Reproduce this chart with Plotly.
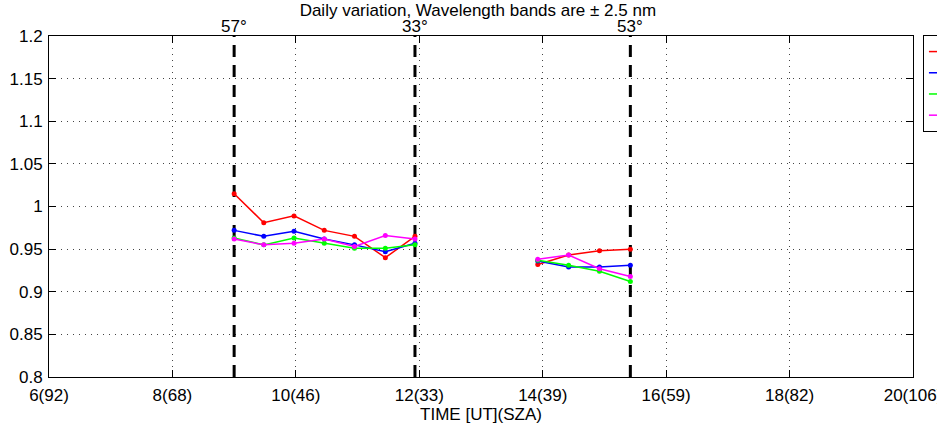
import plotly.graph_objects as go

# Times in UT hours (None separates morning and afternoon sessions)
times = [9.0, 9.48, 9.97, 10.46, 10.95, 11.45, 11.93, None, 13.92, 14.42, 14.92, 15.42]

red = [1.015, 0.981, 0.989, 0.972, 0.965, 0.940, 0.965, None, 0.932, 0.943, 0.948, 0.950]
blue = [0.972, 0.965, 0.971, 0.962, 0.955, 0.947, 0.957, None, 0.936, 0.929, 0.929, 0.931]
green = [0.963, 0.955, 0.963, 0.957, 0.951, 0.951, 0.955, None, 0.937, 0.931, 0.924, 0.912]
magenta = [0.962, 0.955, 0.957, 0.962, 0.953, 0.966, 0.962, None, 0.938, 0.943, 0.927, 0.918]

series_names = ["305 nm", "310 nm", "320 nm", "340 nm"]
series_colors = ["#ff0000", "#0000ff", "#00ff00", "#ff00ff"]

# Dashed SZA marker lines
sza_times = [9.0, 11.93, 15.42]
sza_labels = ["57°", "33°", "53°"]

xtick_vals = [6, 8, 10, 12, 14, 16, 18, 20]
xtick_text = ["6(92)", "8(68)", "10(46)", "12(33)", "14(39)", "16(59)", "18(82)", "20(106)"]
ytick_vals = [0.8, 0.85, 0.9, 0.95, 1.0, 1.05, 1.1, 1.15, 1.2]
ytick_text = ["0.8", "0.85", "0.9", "0.95", "1", "1.05", "1.1", "1.15", "1.2"]

fig = go.Figure()

for t in sza_times:
    fig.add_trace(go.Scatter(
        x=[t, t], y=[0.8, 1.2], mode="lines",
        line=dict(color="black", width=3, dash="12px,8px"),
        showlegend=False, hoverinfo="skip"))

for name, col, vals in zip(series_names, series_colors, [red, blue, green, magenta]):
    fig.add_trace(go.Scatter(
        x=times, y=vals, mode="lines+markers", name=name,
        line=dict(color=col, width=1.5),
        marker=dict(color=col, size=5),
        connectgaps=False))

FS = 17
for t, lab in zip(sza_times, sza_labels):
    fig.add_annotation(x=t, y=1, xref="x", yref="paper", text=lab,
                       showarrow=False, yanchor="bottom", yshift=-2,
                       font=dict(size=FS, color="black"))

font = "Liberation Sans, Arial, sans-serif"
axis_common = dict(showline=True, linecolor="black", linewidth=1, mirror="ticks",
                   ticks="inside", ticklen=7, tickcolor="black",
                   showgrid=True, gridcolor="#444", gridwidth=1, griddash="1px,5px",
                   zeroline=False, tickfont=dict(size=FS, color="black"),
                   ticklabeloverflow="allow")

fig.update_xaxes(range=[6, 20], tickvals=xtick_vals, ticktext=xtick_text,
                 ticklabelstandoff=3,
                 title=dict(text="TIME [UT](SZA)", font=dict(size=FS, color="black"), standoff=0),
                 **axis_common)
fig.update_yaxes(range=[0.8, 1.2], tickvals=ytick_vals, ticktext=ytick_text,
                 ticklabelstandoff=2, **axis_common)

fig.update_layout(
    width=937, height=427,
    margin=dict(l=49, r=24, t=36, b=50, autoexpand=False),
    paper_bgcolor="white", plot_bgcolor="white",
    font=dict(family=font, size=FS, color="black"),
    title=dict(text="Daily variation, Wavelength bands are ± 2.5 nm",
               x=0.51, xanchor="center", y=1 - 10 / 427, yanchor="middle",
               font=dict(size=FS, color="black")),
    legend=dict(x=1.0115, xanchor="left", y=1.003, yanchor="top",
                bordercolor="black", borderwidth=1, bgcolor="white",
                font=dict(size=14), tracegroupgap=0),
)

fig.write_html("out.html", config={"displayModeBar": False},
               post_script="document.body.style.margin='0';")
